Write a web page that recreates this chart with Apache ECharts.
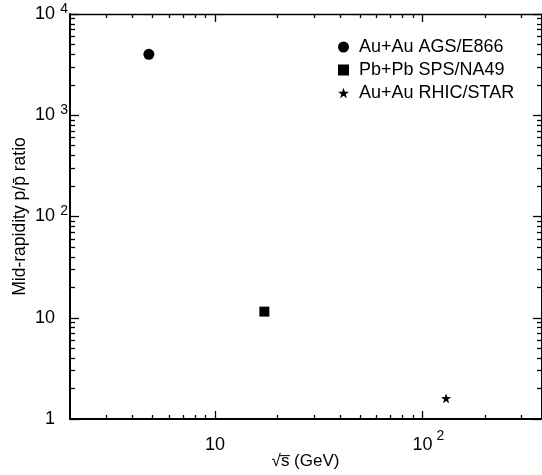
<!DOCTYPE html>
<html>
<head>
<meta charset="utf-8">
<script src="https://cdn.jsdelivr.net/npm/echarts@6/dist/echarts.min.js"></script>
<style>html,body{margin:0;padding:0;background:#fff}#c{width:542px;height:475px}</style>
</head>
<body>
<div id="c"></div>
<script>
// ---- data ----
const seriesNames = ['Au+Au AGS/E866', 'Pb+Pb SPS/NA49', 'Au+Au RHIC/STAR'];
const energies = [4.8, 17.3, 130];       // sqrt(s) GeV
const ratios = [4000, 11.5, 1.6];        // p / pbar
const xMajorTicks = [10, 100];
const xMajorExp = ['', '2'];
const xMinorTicks = [3, 4, 5, 6, 7, 8, 9, 20, 30, 40, 50, 60, 70, 80, 90, 200, 300];
const yMajorTicks = [1, 10, 100, 1000, 10000];
const yMajorExp = ['', '', '2', '3', '4'];
const yMinorTicks = [2,3,4,5,6,7,8,9,20,30,40,50,60,70,80,90,200,300,400,500,600,700,800,900,2000,3000,4000,5000,6000,7000,8000,9000];
const xName = '\u221as\u0305 (GeV)';
const yName = 'Mid-rapidity p/p\u0304 ratio';

const FONT = 'Liberation Sans';
const STAR = 'path://M0,-10 L2.35,-3.24 9.51,-3.09 3.8,1.24 5.88,8.09 0,4 -5.88,8.09 -3.8,1.24 -9.51,-3.09 -2.35,-3.24Z';
const symbols = ['circle', 'rect', STAR];
const symSizes = [11, 10, 10];

function yLabel(v) {
  const i = yMajorTicks.findIndex(t => Math.abs(t - v) / t < 1e-6);
  if (i < 0) return '';
  const base = yMajorExp[i] ? '10' : String(yMajorTicks[i]);
  return '{b|' + base + '}{s|' + (yMajorExp[i] || ' ') + '}';
}
function xLabel(v) {
  const i = xMajorTicks.findIndex(t => Math.abs(t - v) / t < 1e-6);
  if (i < 0) return '';
  const base = xMajorExp[i] ? '10' : String(xMajorTicks[i]);
  return '{e| }{b|' + base + '}{s|' + (xMajorExp[i] || ' ') + '}';
}

const XMIN = 2, XMAX = 373, YMIN = 1, YMAX = 10000;
const black = '#000';

function xAx(pos, ticks, len, showLine, lineW, labels) {
  return {
    type: 'log', position: pos, min: XMIN, max: XMAX, logBase: 10,
    axisLine: { show: showLine, lineStyle: { color: black, width: lineW } },
    axisTick: { show: true, inside: true, length: len, customValues: ticks, lineStyle: { color: black, width: 1.3 } },
    axisLabel: labels ? {
      show: true, customValues: xMajorTicks, formatter: xLabel, margin: 10,
      color: black, fontFamily: FONT,
      rich: {
        b: { fontSize: 18, fontFamily: FONT, color: black },
        s: { fontSize: 14, fontFamily: FONT, color: black, width: 8, padding: [0, 0, 18, 4] },
        e: { fontSize: 14, width: 12 }
      }
    } : { show: false },
    splitLine: { show: false }, minorTick: { show: false }, minorSplitLine: { show: false },
    name: labels ? xName : '', nameLocation: 'middle', nameGap: 34, nameMoveOverlap: false,
    nameTextStyle: { fontSize: 17, fontFamily: FONT, color: black }
  };
}
function yAx(pos, ticks, len, showLine, lineW, labels) {
  return {
    type: 'log', position: pos, min: YMIN, max: YMAX, logBase: 10,
    axisLine: { show: showLine, lineStyle: { color: black, width: lineW } },
    axisTick: { show: true, inside: true, length: len, customValues: ticks, lineStyle: { color: black, width: 1.3 } },
    axisLabel: labels ? {
      show: true, customValues: yMajorTicks, formatter: yLabel, margin: 2,
      color: black, fontFamily: FONT,
      rich: {
        b: { fontSize: 18, fontFamily: FONT, color: black },
        s: { fontSize: 14, fontFamily: FONT, color: black, width: 8, padding: [0, 0, 10, 5] }
      }
    } : { show: false },
    splitLine: { show: false }, minorTick: { show: false }, minorSplitLine: { show: false },
    name: labels ? yName : '', nameLocation: 'middle', nameGap: 41, nameRotate: 90, nameMoveOverlap: false,
    nameTextStyle: { fontSize: 17.5, fontFamily: FONT, color: black }
  };
}

const chart = echarts.init(document.getElementById('c'), null, { renderer: 'canvas' });
chart.setOption({
  animation: false,
  backgroundColor: '#fff',
  grid: { left: 70, right: 1, top: 14, bottom: 56, containLabel: false, outerBoundsMode: 'none' },
  xAxis: [
    xAx('bottom', xMajorTicks, 8, true, 2, true),
    xAx('bottom', xMinorTicks, 4, false, 1, false),
    xAx('top', xMajorTicks, 8, true, 1.3, false),
    xAx('top', xMinorTicks, 4, false, 1, false)
  ],
  yAxis: [
    yAx('left', yMajorTicks, 9, true, 2, true),
    yAx('left', yMinorTicks, 5, false, 1, false),
    yAx('right', yMajorTicks, 8, true, 1, false),
    yAx('right', yMinorTicks, 4, false, 1, false)
  ],
  legend: {
    orient: 'vertical', left: 333, top: 33, itemWidth: 11, itemHeight: 11, itemGap: 5,
    textStyle: { fontSize: 18, fontFamily: FONT, color: black, lineHeight: 17, padding: [0, 0, 0, 5] },
    data: seriesNames.map((n, i) => ({ name: n, icon: symbols[i], itemStyle: { color: black, opacity: 1 } }))
  },
  series: seriesNames.map((n, i) => ({
    name: n, type: 'scatter', xAxisIndex: 0, yAxisIndex: 0,
    symbol: symbols[i], symbolSize: symSizes[i],
    itemStyle: { color: black, opacity: 1 },
    data: [[energies[i], ratios[i]]]
  }))
});
</script>
</body>
</html>
